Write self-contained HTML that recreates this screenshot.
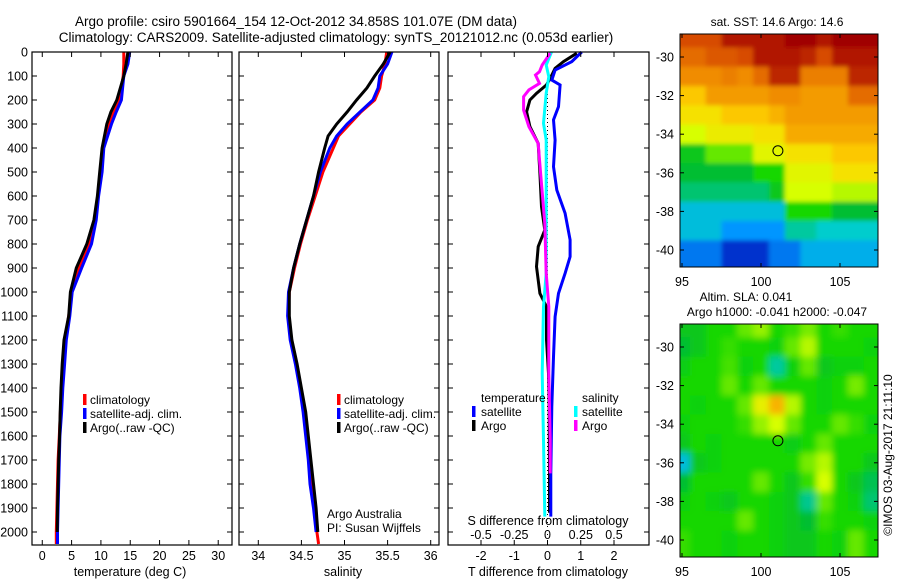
<!DOCTYPE html>
<html><head><meta charset="utf-8"><style>
html,body{margin:0;padding:0;background:#fff;}
svg{display:block;font-family:"Liberation Sans",sans-serif;}
text{fill:#000;}
</style></head><body>
<svg id="c" width="900" height="580" viewBox="0 0 900 580">
<defs>
<filter id="blurSla" x="-10%" y="-10%" width="120%" height="120%"><feGaussianBlur stdDeviation="3.5" edgeMode="duplicate"/></filter>
<filter id="blurSst" x="-10%" y="-10%" width="120%" height="120%"><feGaussianBlur stdDeviation="2" edgeMode="duplicate"/></filter>
</defs>
<text x="296" y="26" font-size="13.5" text-anchor="middle">Argo profile: csiro 5901664_154 12-Oct-2012 34.858S 101.07E (DM data)</text>
<text x="336" y="42" font-size="13.5" text-anchor="middle">Climatology: CARS2009. Satellite-adjusted climatology: synTS_20121012.nc (0.053d earlier)</text>
<text x="777" y="26" font-size="12" text-anchor="middle">sat. SST: 14.6 Argo: 14.6</text>
<text x="746" y="301" font-size="12" text-anchor="middle">Altim. SLA: 0.041</text>
<text x="777" y="316" font-size="12" text-anchor="middle">Argo h1000: -0.041 h2000: -0.047</text>
<text transform="translate(892,455) rotate(-90)" font-size="12" text-anchor="middle">©IMOS 03-Aug-2017 21:11:10</text>
</svg>
<script>
// ---- data ----
const depthTicks=[0,100,200,300,400,500,600,700,800,900,1000,1100,1200,1300,1400,1500,1600,1700,1800,1900,2000];
const tDepth=[0,50,100,150,200,250,300,400,500,600,700,800,900,1000,1100,1200,1300,1400,1500,1600,1700,1800,1900,2000,2050];
const tClim=[13.9,13.9,13.8,13.5,13.0,12.1,11.4,10.4,10.0,9.5,9.0,8.0,6.2,5.0,4.5,3.9,3.6,3.3,3.1,2.9,2.7,2.6,2.5,2.4,2.4];
const tSat=[14.9,14.6,13.9,13.7,13.5,12.6,11.8,10.5,10.2,9.6,9.2,8.4,6.7,5.1,4.7,4.1,3.8,3.5,3.3,3.0,2.9,2.8,2.7,2.6,2.6];
const tArgo=[14.6,14.3,13.9,13.3,12.7,11.7,11.0,10.2,9.8,9.4,8.8,7.6,5.8,4.8,4.5,3.7,3.4,3.2,3.05,2.95,2.8,2.7,2.6,2.55,null];
const tTicks=[0,5,10,15,20,25,30];
const sDepth=[0,50,100,150,200,250,300,350,400,500,600,700,800,900,1000,1100,1200,1300,1400,1500,1600,1700,1800,1900,2000,2050];
const sClim=[35.49,35.47,35.43,35.41,35.35,35.19,35.06,34.93,34.87,34.75,34.66,34.57,34.49,34.42,34.36,34.35,34.38,34.44,34.49,34.53,34.57,34.6,34.62,34.65,34.68,34.70];
const sSat=[35.55,35.5,35.41,35.39,35.33,35.18,35.03,34.91,34.83,34.72,34.64,34.56,34.48,34.41,34.35,34.34,34.37,34.43,34.48,34.52,34.55,34.58,34.6,34.64,34.67,null];
const sArgo=[35.53,35.45,35.35,35.26,35.14,35.03,34.91,34.81,34.77,34.70,34.64,34.56,34.48,34.41,34.36,34.36,34.39,34.45,34.5,34.55,34.58,34.61,34.64,34.67,34.69,null];
const sTicks=[34,34.5,35,35.5,36];
const dTSatDepth=[0,40,75,117,137,228,283,367,478,575,672,783,853,922,1006,1103,1270,1478,1756,1936];
const dTSat=[1.03,0.73,0.23,0.13,0.38,0.33,0.18,0.23,0.18,0.28,0.53,0.68,0.68,0.53,0.33,0.23,0.18,0.13,0.1,0.1];
const dTArgoDepth=[5,40,68,110,137,172,200,249,311,381,505,644,742,811,894,1006,1061,1200,1339,1478,1756,1920];
const dTArgo=[0.88,0.48,0.23,0.08,-0.03,-0.33,-0.53,-0.63,-0.53,-0.28,-0.23,-0.18,-0.08,-0.28,-0.33,-0.23,-0.03,-0.03,0.03,0.05,0.06,0.06];
const dSSatDepth=[0,54,103,172,297,367,644,922,1061,1339,1617,1936];
const dSSat=[0.03,-0.01,0.01,-0.01,-0.03,-0.01,-0.01,-0.01,-0.03,-0.04,-0.03,-0.02];
const dSArgoDepth=[5,54,82,96,131,158,186,242,311,381,450,714,922,1061,1339,1617,1756];
const dSArgo=[0.02,-0.04,-0.06,-0.09,-0.06,-0.14,-0.18,-0.18,-0.14,-0.07,-0.06,-0.02,-0.01,0.01,0.01,0.02,0.02];
const dTTicks=[-2,-1,0,1,2];
const dSTicks=[-0.5,-0.25,0,0.25,0.5];
const dSTickLabels=["-0.5","-0.25","0","0.25","0.5"];
const mapLons=[95,100,105];
const mapLats=[-30,-32,-34,-36,-38,-40];
const sstGrid=[
[0.9,0.9,0.9,0.97,0.97,0.97,0.97,1,1,0.97,1,1,1],
[0.85,0.85,0.88,0.88,0.9,0.97,0.97,0.97,0.95,0.9,0.97,0.97,0.97],
[0.8,0.8,0.8,0.82,0.8,0.85,0.95,0.95,0.82,0.82,0.82,0.95,0.95],
[0.72,0.72,0.78,0.78,0.78,0.78,0.8,0.8,0.78,0.78,0.78,0.85,0.85],
[0.68,0.68,0.68,0.72,0.72,0.72,0.75,0.78,0.78,0.78,0.78,0.78,0.78],
[0.62,0.62,0.66,0.66,0.66,0.68,0.68,0.76,0.76,0.76,0.76,0.76,0.76],
[0.45,0.45,0.55,0.55,0.55,0.64,0.64,0.68,0.68,0.68,0.72,0.72,0.72],
[0.42,0.42,0.42,0.42,0.42,0.5,0.5,0.64,0.64,0.64,0.68,0.68,0.68],
[0.38,0.38,0.38,0.38,0.38,0.38,0.45,0.62,0.62,0.62,0.6,0.6,0.6],
[0.3,0.3,0.3,0.3,0.3,0.3,0.3,0.5,0.5,0.5,0.42,0.42,0.42],
[0.3,0.3,0.3,0.25,0.25,0.25,0.25,0.35,0.35,0.32,0.32,0.32,0.32],
[0.22,0.22,0.22,0.15,0.15,0.15,0.22,0.22,0.28,0.28,0.28,0.28,0.28]];
const slaGrid=[
[0.45,0.45,0.5,0.5,0.55,0.58,0.5,0.52,0.56,0.5,0.52,0.5,0.5],
[0.42,0.45,0.5,0.52,0.5,0.5,0.48,0.55,0.6,0.5,0.5,0.5,0.48],
[0.47,0.5,0.5,0.53,0.48,0.5,0.35,0.48,0.55,0.45,0.48,0.48,0.5],
[0.5,0.5,0.5,0.55,0.5,0.55,0.5,0.5,0.5,0.48,0.5,0.56,0.5],
[0.5,0.48,0.5,0.5,0.55,0.65,0.75,0.6,0.5,0.48,0.5,0.5,0.5],
[0.48,0.5,0.5,0.5,0.52,0.58,0.62,0.55,0.5,0.5,0.55,0.52,0.48],
[0.45,0.5,0.48,0.5,0.5,0.5,0.5,0.47,0.5,0.55,0.5,0.5,0.5],
[0.3,0.45,0.48,0.5,0.5,0.5,0.5,0.5,0.56,0.6,0.5,0.5,0.45],
[0.42,0.5,0.5,0.5,0.5,0.55,0.5,0.45,0.52,0.62,0.5,0.45,0.4],
[0.48,0.5,0.48,0.45,0.5,0.5,0.48,0.45,0.36,0.55,0.5,0.48,0.38],
[0.5,0.5,0.5,0.5,0.55,0.5,0.48,0.45,0.42,0.52,0.5,0.5,0.48],
[0.52,0.5,0.5,0.48,0.5,0.5,0.48,0.45,0.45,0.5,0.48,0.55,0.5]];
const floatLon=101.07, floatLat=-34.858;

// ---- helpers ----
const svg=document.getElementById('c');
const NS='http://www.w3.org/2000/svg';
function mk(tag,attrs,parent){const e=document.createElementNS(NS,tag);for(const k in attrs)e.setAttribute(k,attrs[k]);(parent||svg).appendChild(e);return e;}
function txt(x,y,s,size,anchor){const t=mk('text',{x:x,y:y,'font-size':size||12,'text-anchor':anchor||'middle'});t.textContent=s;return t;}
const Y0=52,Y1=545,DMAX=(Y1-Y0)/24*100;
const yD=d=>Y0+d/DMAX*(Y1-Y0);
function lin(d0,d1,p0,p1){return v=>p0+(v-d0)/(d1-d0)*(p1-p0);}
function frame(x0,x1,name){const r=mk('rect',{x:x0,y:Y0,width:x1-x0,height:Y1-Y0,fill:'none',stroke:'#000','stroke-width':1.2});}
function line(xs,ds,xf,color,name){let pts=[];for(let i=0;i<xs.length;i++){if(xs[i]==null)continue;pts.push(xf(xs[i]).toFixed(1)+','+yD(ds[i]).toFixed(1));}
const p=mk('polyline',{points:pts.join(' '),fill:'none',stroke:color,'stroke-width':3,'stroke-linejoin':'miter'});}
function depthTicksFor(x0,x1,labels){depthTicks.forEach(d=>{const y=yD(d);mk('line',{x1:x0,y1:y,x2:x0+5,y2:y,stroke:'#000'});mk('line',{x1:x1,y1:y,x2:x1-5,y2:y,stroke:'#000'});if(labels){const t=txt(28,y+4.5,String(d),12.5,'end');}});}
function xTicks(vals,xf,labels){vals.forEach((v,i)=>{const x=xf(v);mk('line',{x1:x,y1:Y1,x2:x,y2:Y1-5,stroke:'#000'});mk('line',{x1:x,y1:Y0,x2:x,y2:Y0+5,stroke:'#000'});const t=txt(x,560,labels?labels[i]:String(v),12.5);});}
function legMark(x,y,color){const r=mk('rect',{x:x,y:y-10,width:3.5,height:11,fill:color});}

// ---- panel 1: temperature ----
const xT=lin(-1.75,32.35,32,232);
line(tClim,tDepth,xT,'#f00','temp-climatology-line');
line(tSat,tDepth,xT,'#00f','temp-satellite-line');
line(tArgo,tDepth,xT,'#000','temp-argo-line');
frame(32,232,'temperature-panel');
depthTicksFor(32,232,true);
xTicks(tTicks,xT);
txt(130,576,'temperature (deg C)',12.5);
[['climatology','#f00'],['satellite-adj. clim.','#00f'],['Argo(..raw -QC)','#000']].forEach((e,i)=>{legMark(83,404+i*14,e[1]);const t=txt(90,404+i*14,e[0],12,'start');});

// ---- panel 2: salinity ----
const xS=lin(34,36,258.3,430.7);
line(sClim,sDepth,xS,'#f00','sal-climatology-line');
line(sSat,sDepth,xS,'#00f','sal-satellite-line');
line(sArgo,sDepth,xS,'#000','sal-argo-line');
frame(239,439,'salinity-panel');
depthTicksFor(239,439,false);
xTicks(sTicks,xS);
txt(343,576,'salinity',12.5);
[['climatology','#f00'],['satellite-adj. clim.','#00f'],['Argo(..raw -QC)','#000']].forEach((e,i)=>{legMark(337,404+i*14,e[1]);const t=txt(344,404+i*14,e[0],12,'start');});
txt(327,518,'Argo Australia',12,'start');
txt(327,532,'PI: Susan Wijffels',12,'start');

// ---- panel 3: differences ----
const xDT=lin(-2,2,481,614);
const xDS=lin(-0.5,0.5,481,614);
mk('line',{x1:xDT(0),y1:58,x2:xDT(0),y2:535,stroke:'#000','stroke-dasharray':'1,3'});
line(dTArgo,dTArgoDepth,xDT,'#000','dT-argo-line');
line(dTSat,dTSatDepth,xDT,'#00f','dT-satellite-line');
line(dSSat,dSSatDepth,xDS,'#0ff','dS-satellite-line');
line(dSArgo,dSArgoDepth,xDS,'#f0f','dS-argo-line');
frame(448,649,'difference-panel');
depthTicksFor(448,649,false);
xTicks(dTTicks,xDT);
dSTicks.forEach((v,i)=>{const t=txt(xDS(v),539,dSTickLabels[i],12.5);});
txt(548,525,'S difference from climatology',12.5);
txt(548,576,'T difference from climatology',12.5);
txt(481,402,'temperature',12,'start');
txt(582,402,'salinity',12,'start');
[['satellite','#00f',472],['Argo','#000',472]].forEach((e,i)=>{legMark(e[2],416+i*14,e[1]);const t=txt(481,416+i*14,e[0],12,'start');});
[['satellite','#0ff'],['Argo','#f0f']].forEach((e,i)=>{legMark(574,416+i*14,e[1]);const t=txt(582,416+i*14,e[0],12,'start');});

// ---- maps ----
const stops=[[0,0,0,140],[0.15,0,50,205],[0.25,0,150,255],[0.32,0,205,205],[0.42,0,190,50],[0.5,20,215,0],[0.62,215,255,0],[0.7,255,215,0],[0.8,240,140,0],[0.9,215,75,0],[1,160,0,0]];
function cmap(v){for(let i=1;i<stops.length;i++){if(v<=stops[i][0]){const a=stops[i-1],b=stops[i],f=(v-a[0])/(b[0]-a[0]);return 'rgb('+[1,2,3].map(k=>Math.round(a[k]+f*(b[k]-a[k]))).join(',')+')';}}return 'rgb(160,0,0)';}
function drawMap(grid,top,name,filt){
 const X0=680,X1=878,Yt=top,Yb=top+233;
 const lx=lin(95,100,682,761), ly=lin(-30,-40,top+23,top+216);
 const g=mk('g',{});
 const cp=mk('clipPath',{id:name+'-clip'},g);
 mk('rect',{x:X0,y:Yt,width:X1-X0,height:Yb-Yt},cp);
 const outer=mk('g',{'clip-path':'url(#'+name+'-clip)'},g);
 const cells=mk('g',{filter:'url(#'+filt+')'},outer);
 const nr=grid.length;
 for(let r=0;r<nr;r++)for(let c=0;c<grid[r].length;c++){
  const lat=-29-r, lon=95+c;
  let x=lx(lon-0.5),y=ly(lat+0.5);
  let w=lx(1)-lx(0)+0.6,h=ly(0)-ly(1)+0.6;
  if(c===0){x-=20;w+=20;} if(c===grid[r].length-1){w+=20;}
  if(r===0){y-=20;h+=20;} if(r===nr-1){h+=25;}
  const cell=mk('rect',{x:x.toFixed(1),y:y.toFixed(1),width:w.toFixed(1),height:h.toFixed(1),fill:cmap(grid[r][c])},cells);
  
  
 }
 mk('rect',{x:X0,y:Yt,width:X1-X0,height:Yb-Yt,fill:'none',stroke:'#000','stroke-width':1},g);
 mapLons.forEach(v=>{const x=lx(v);mk('line',{x1:x,y1:Yb,x2:x,y2:Yb-4,stroke:'#000'},g);mk('line',{x1:x,y1:Yt,x2:x,y2:Yt+4,stroke:'#000'},g);const t=txt(x,Yb+19,String(v),12.5);});
 mapLats.forEach(v=>{const y=ly(v);mk('line',{x1:X0,y1:y,x2:X0+4,y2:y,stroke:'#000'},g);mk('line',{x1:X1,y1:y,x2:X1-4,y2:y,stroke:'#000'},g);const t=txt(674,y+4.5,String(v),12.5,'end');});
 const m=mk('circle',{cx:lx(floatLon),cy:ly(floatLat),r:5,fill:'none',stroke:'#000','stroke-width':1},g);
 
 
}
drawMap(sstGrid,34,'sst-map','blurSst');
drawMap(slaGrid,324,'sla-map','blurSla');
</script>
</body></html>
